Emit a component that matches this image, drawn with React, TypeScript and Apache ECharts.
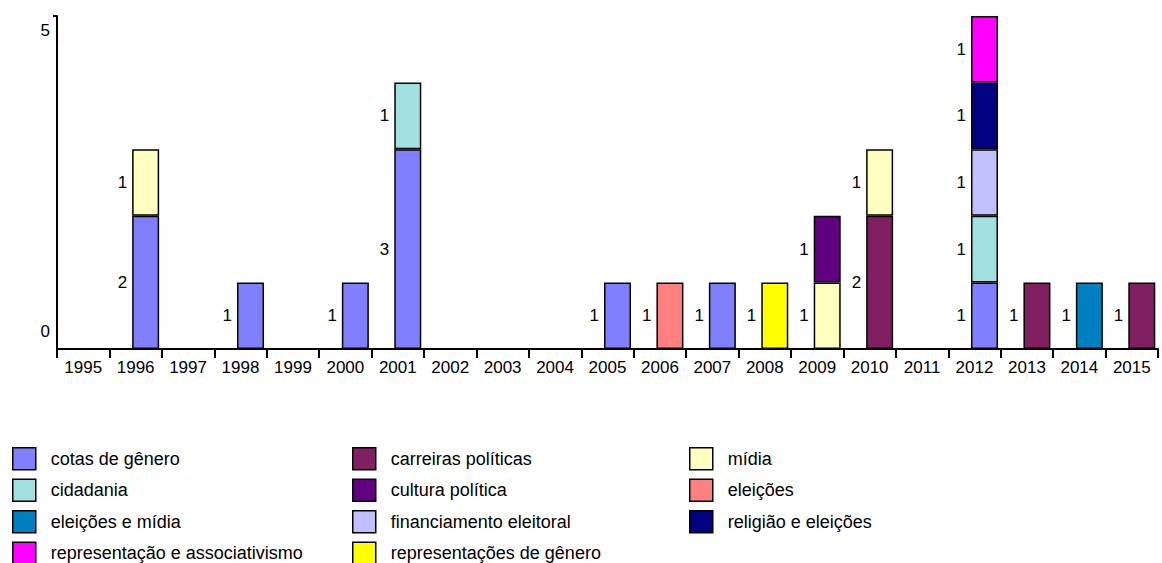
import React, { useEffect, useRef } from "react";
import * as echarts from "echarts";

const years = ["1995","1996","1997","1998","1999","2000","2001","2002","2003","2004","2005","2006","2007","2008","2009","2010","2011","2012","2013","2014","2015"];

const cotasDeGenero =          [0,2,0,1,0,1,3,0,0,0,1,0,1,0,0,0,0,1,0,0,0];
const carreirasPoliticas =     [0,0,0,0,0,0,0,0,0,0,0,0,0,0,0,2,0,0,1,0,1];
const midia =                  [0,1,0,0,0,0,0,0,0,0,0,0,0,0,1,1,0,0,0,0,0];
const cidadania =              [0,0,0,0,0,0,1,0,0,0,0,0,0,0,0,0,0,1,0,0,0];
const culturaPolitica =        [0,0,0,0,0,0,0,0,0,0,0,0,0,0,1,0,0,0,0,0,0];
const eleicoes =               [0,0,0,0,0,0,0,0,0,0,0,1,0,0,0,0,0,0,0,0,0];
const eleicoesEMidia =         [0,0,0,0,0,0,0,0,0,0,0,0,0,0,0,0,0,0,0,1,0];
const financiamentoEleitoral = [0,0,0,0,0,0,0,0,0,0,0,0,0,0,0,0,0,1,0,0,0];
const religiaoEEleicoes =      [0,0,0,0,0,0,0,0,0,0,0,0,0,0,0,0,0,1,0,0,0];
const representacaoEAssoc =    [0,0,0,0,0,0,0,0,0,0,0,0,0,0,0,0,0,1,0,0,0];
const representacoesDeGenero = [0,0,0,0,0,0,0,0,0,0,0,0,0,1,0,0,0,0,0,0,0];

const yTicks = [0, 5];

const seriesDefs = [
  { name: "cotas de gênero", data: cotasDeGenero, color: "#8080FF" },
  { name: "carreiras políticas", data: carreirasPoliticas, color: "#802060" },
  { name: "mídia", data: midia, color: "#FFFFC0" },
  { name: "cidadania", data: cidadania, color: "#A0E0E0" },
  { name: "cultura política", data: culturaPolitica, color: "#600080" },
  { name: "eleições", data: eleicoes, color: "#FF8080" },
  { name: "eleições e mídia", data: eleicoesEMidia, color: "#0080C0" },
  { name: "financiamento eleitoral", data: financiamentoEleitoral, color: "#C0C0FF" },
  { name: "religião e eleições", data: religiaoEEleicoes, color: "#000080" },
  { name: "representação e associativismo", data: representacaoEAssoc, color: "#FF00FF" },
  { name: "representações de gênero", data: representacoesDeGenero, color: "#FFFF00" },
];

const legendCol1 = ["cotas de gênero", "cidadania", "eleições e mídia", "representação e associativismo"];
const legendCol2 = ["carreiras políticas", "cultura política", "financiamento eleitoral", "representações de gênero"];
const legendCol3 = ["mídia", "eleições", "religião e eleições"];

const FONT = "'Liberation Sans', Arial, sans-serif";

export default function App() {
  const ref = useRef<HTMLDivElement>(null);
  useEffect(() => {
    if (!ref.current) return;
    const chart = echarts.init(ref.current, null, { renderer: "svg" });

    const makeLegend = (data: string[], left: number) => ({
      data,
      left,
      top: 447,
      height: 140,
      padding: 0,
      orient: "vertical",
      itemWidth: 23,
      itemHeight: 22,
      itemGap: 8,
      icon: "rect",
      selectedMode: false,
      itemStyle: { borderColor: "#000", borderWidth: 1.5 },
      textStyle: { fontFamily: FONT, fontSize: 18, lineHeight: 20, color: "#000", padding: [0, 0, 0, 10] },
    });

    const option: any = {
      animation: false,
      backgroundColor: "#fff",
      grid: { left: 57, right: 4, top: 16, bottom: 214, containLabel: false },
      legend: [makeLegend(legendCol1, 12), makeLegend(legendCol2, 352), makeLegend(legendCol3, 689)],
      xAxis: {
        type: "category",
        data: years,
        boundaryGap: true,
        axisLine: { lineStyle: { color: "#000", width: 2 } },
        axisTick: { show: true, length: 9, lineStyle: { color: "#000", width: 2 } },
        axisLabel: { color: "#000", fontFamily: FONT, fontSize: 17, margin: 10, interval: 0 },
      },
      yAxis: {
        type: "value",
        min: 0,
        max: 5,
        interval: 5,
        splitLine: { show: false },
        axisLine: { show: true, lineStyle: { color: "#000", width: 2 } },
        axisTick: { show: true, length: 4, customValues: [5], lineStyle: { color: "#000", width: 2 } },
        axisLabel: {
          color: "#000",
          fontFamily: FONT,
          fontSize: 17,
          margin: 7,
          customValues: yTicks,
          formatter: (v: number) => (v === 5 ? "{b|5}" : "{t|" + v + "}"),
          rich: {
            b: { fontFamily: FONT, fontSize: 17, color: "#000", padding: [28, 0, 0, 0] },
            t: { fontFamily: FONT, fontSize: 17, color: "#000", padding: [0, 0, 36, 0] },
          },
        },
      },
      series: [
        {
          name: "__spacer",
          type: "bar",
          stack: "spacer",
          barWidth: 20,
          barGap: "0%",
          data: years.map(() => "-"),
          itemStyle: { color: "transparent" },
          silent: true,
        },
        ...seriesDefs.map((s) => ({
          name: s.name,
          type: "bar",
          stack: "total",
          barWidth: 27,
          barGap: "0%",
          data: s.data.map((v) => (v === 0 ? "-" : v)),
          itemStyle: { color: s.color, borderColor: "#000", borderWidth: 1.5 },
          label: {
            show: true,
            position: "left",
            distance: 5,
            color: "#000",
            fontFamily: FONT,
            fontSize: 17,
          },
        })),
      ],
    };
    chart.setOption(option);
    return () => chart.dispose();
  }, []);
  return (
    <div
      ref={ref}
      style={{ position: "absolute", left: 0, top: 0, width: 1162, height: 563, background: "#fff" }}
    />
  );
}
